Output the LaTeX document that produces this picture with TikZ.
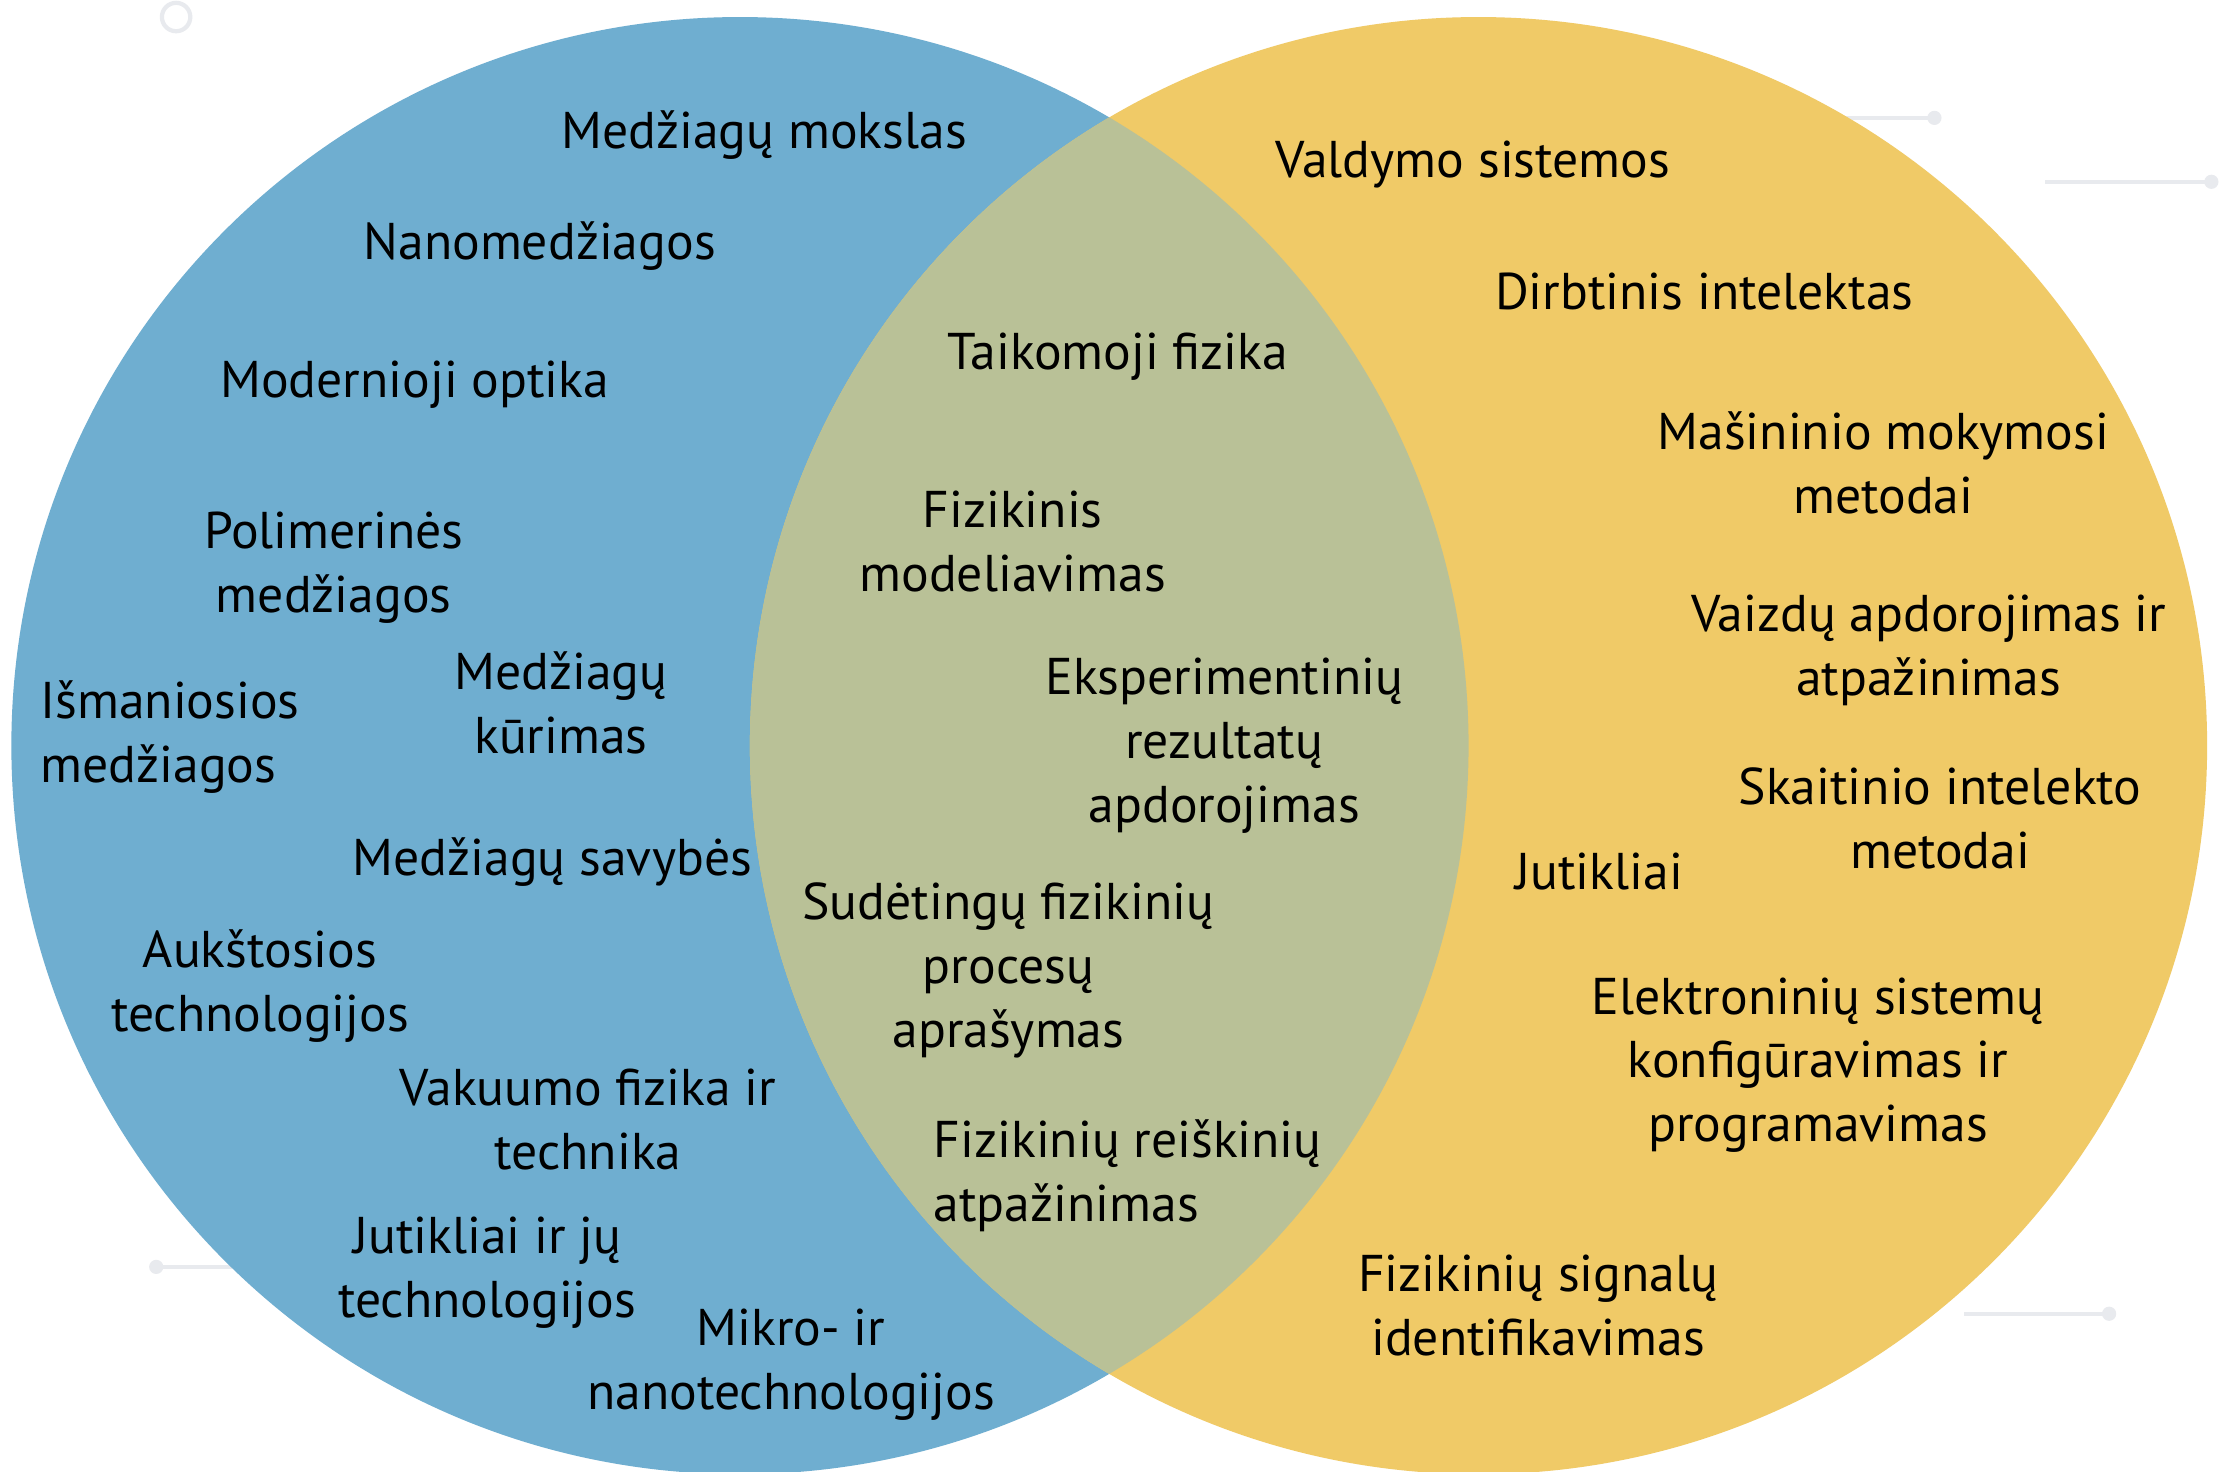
\documentclass[tikz,border=0pt]{standalone}
\usepackage{fontspec}
\setmainfont{PT Sans}
\definecolor{fizblue}{HTML}{6FAED0}
\definecolor{fizyellow}{HTML}{F0CA67}
\definecolor{fizmix}{HTML}{B9C197}
\definecolor{decogray}{HTML}{E8EAEE}

\begin{document}
\begin{tikzpicture}[x=0.14203mm, y=-0.14203mm,
    topic/.style={font=\fontsize{14.7}{18.2}\selectfont, align=center, inner sep=0pt, yshift=-1.2pt},
    deco/.style={draw=decogray, line width=1.2pt},
    decodot/.style={fill=decogray}]
  \useasboundingbox (0,0) rectangle (1568,1036);
  \fill[white] (0,0) rectangle (1568,1036);
  % Background decoration
  \draw[deco] (1300,83) -- (1362,83);
  \fill[decodot] (1362,83) circle[radius=5];
  \draw[deco] (1440,128) -- (1557,128);
  \fill[decodot] (1557,128) circle[radius=5];
  \draw[deco] (110,892) -- (165,892);
  \fill[decodot] (110,892) circle[radius=5];
  \draw[deco] (1383,925) -- (1485,925);
  \fill[decodot] (1485,925) circle[radius=5];
  \draw[deco] (124,12) circle[radius=10];
  % Circles
  \coordinate (lc) at (521,525);
  \coordinate (rc) at (1041,525);
  \fill[fizblue] (lc) circle[radius=513];
  \fill[fizyellow] (rc) circle[radius=513];
  \begin{scope}
    \clip (lc) circle[radius=513];
    \fill[fizmix] (rc) circle[radius=513];
  \end{scope}
  % Left topics
  \node[topic] (mokslas)   at (538,92)  {Medžiagų mokslas};
  \node[topic] (nano)      at (380,170) {Nanomedžiagos};
  \node[topic] (optika)    at (292,268) {Modernioji optika};
  \node[topic] (polimer)   at (235,397) {Polimerinės\\medžiagos};
  \node[topic, align=left, anchor=west] (ismanios) at (28,516) {Išmaniosios\\medžiagos};
  \node[topic] (kurimas)   at (395,492) {Medžiagų\\kūrimas};
  \node[topic] (savybes)   at (389,604) {Medžiagų savybės};
  \node[topic] (aukstos)   at (183,691) {Aukštosios\\technologijos};
  \node[topic] (vakuumo)   at (414,785) {Vakuumo fizika ir\\technika};
  \node[topic] (jutikltech) at (343,893) {Jutikliai ir jų\\technologijos};
  \node[topic] (mikro)     at (557,958) {Mikro- ir\\nanotechnologijos};
  % Common topics
  \node[topic] (taikom)    at (787,248) {Taikomoji fizika};
  \node[topic] (modeliav)  at (713,378) {Fizikinis\\modeliavimas};
  \node[topic] (eksper)    at (862,522) {Eksperimentinių\\rezultatų\\apdorojimas};
  \node[topic] (procesu)   at (710,680) {Sudėtingų fizikinių\\procesų\\aprašymas};
  \node[topic, align=left, anchor=west] (reiskin) at (657,825) {Fizikinių reiškinių\\atpažinimas};
  % Right topics
  \node[topic] (valdymo)   at (1037,113) {Valdymo sistemos};
  \node[topic] (dirbtin)   at (1200,202) {Dirbtinis intelektas};
  \node[topic] (masinin)   at (1326,323) {Mašininio mokymosi\\metodai};
  \node[topic] (vaizdu)    at (1358,455) {Vaizdų apdorojimas ir\\atpažinimas};
  \node[topic] (skaitin)   at (1366,573) {Skaitinio intelekto\\metodai};
  \node[topic] (jutikl)    at (1126,611) {Jutikliai};
  \node[topic] (elektron)  at (1280,747) {Elektroninių sistemų\\konfigūravimas ir\\programavimas};
  \node[topic] (signalu)   at (1083,916) {Fizikinių signalų\\identifikavimas};
\end{tikzpicture}
\end{document}
